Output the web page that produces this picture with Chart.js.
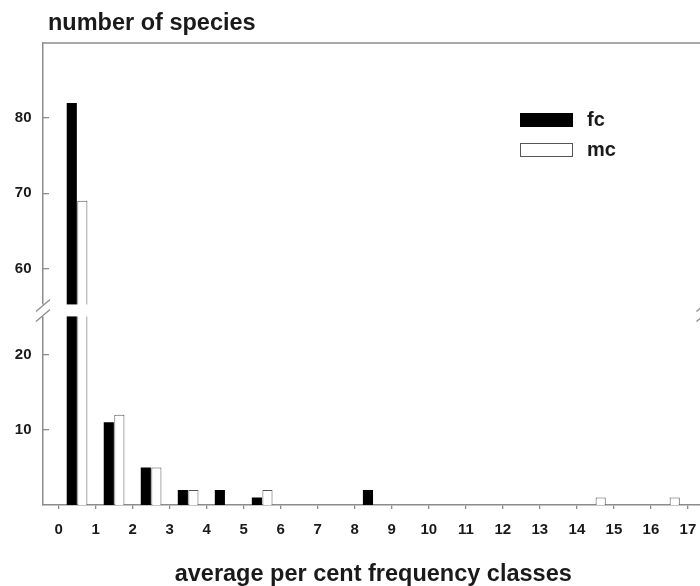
<!DOCTYPE html>
<html>
<head>
<meta charset="utf-8">
<title>number of species</title>
<script src="https://cdn.jsdelivr.net/npm/chart.js@4.4.1/dist/chart.umd.min.js"></script>
<style>
  html, body { margin: 0; padding: 0; background: #fff; overflow: hidden; }
</style>
</head>
<body>
<canvas id="chart" width="720" height="586"></canvas>
<script>
// frequency classes (class i = i..i+1 per cent)
const classes = [0, 1, 2, 3, 4, 5, 6, 7, 8, 9, 10, 11, 12, 13, 14, 15, 16];
const fc = [82, 11, 5, 2, 2, 1, 0, 0, 2, 0, 0, 0, 0, 0, 0, 0, 0];
const mc = [69, 12, 5, 2, 0, 2, 0, 0, 0, 0, 0, 0, 0, 0, 1, 0, 1];

const xTickValues = [0, 1, 2, 3, 4, 5, 6, 7, 8, 9, 10, 11, 12, 13, 14, 15, 16, 17];
const lowTickValues = [10, 20];
const highTickValues = [60, 70, 80];
const lowRange = [0, 25.9];   // lower part of the broken axis
const highRange = [54.4, 90]; // upper part

const yTitle = 'number of species';
const xTitle = 'average per cent frequency classes';

const AXIS = '#8c8c8c';
const TEXT = '#1a1a1a';
const FONT = '"Liberation Sans", Arial, sans-serif';

// bars sit in the middle of their class; split each value over the two axis parts
function lowPart(values) {
    return values.map((v, i) => ({ x: classes[i] + 0.5, y: v > 0 ? Math.min(v, lowRange[1]) : null }));
}
function highPart(values) {
    return values.map((v, i) => ({ x: classes[i] + 0.5, y: v > lowRange[1] ? v : null }));
}

const fcStyle = { backgroundColor: '#000', borderColor: '#000', borderWidth: 0 };
const mcStyle = { backgroundColor: '#fff', borderColor: '#555', borderWidth: 1 };

function yScale(range, tickValues, weight) {
    return {
        type: 'linear',
        position: 'left',
        stack: 'broken',
        stackWeight: weight,
        stacked: false,
        min: range[0],
        max: range[1],
        afterBuildTicks: s => { s.ticks = tickValues.map(v => ({ value: v })); },
        afterFit: s => { s.width = 43; },
        grid: { drawOnChartArea: false, tickLength: -6, color: AXIS, lineWidth: 1.3 },
        border: { color: AXIS, width: 1.5 },
        ticks: { padding: 17.5, color: TEXT, font: { family: FONT, size: 15, weight: 'bold' } }
    };
}

// white gap, break marks, frame line, title and legend
const decorations = {
    id: 'decorations',
    afterDraw(chart) {
        const ctx = chart.ctx;
        const area = chart.chartArea;
        const by = chart.scales.yHigh.bottom;
        ctx.save();

        ctx.fillStyle = '#fff';
        ctx.fillRect(area.left - 10, by - 6, area.right - area.left + 20, 12);

        ctx.strokeStyle = AXIS;
        ctx.lineWidth = 1.3;
        [area.left, area.right].forEach(x => {
            [by - 5, by + 5].forEach(y => {
                ctx.beginPath();
                ctx.moveTo(x - 7, y + 6);
                ctx.lineTo(x + 7, y - 6);
                ctx.stroke();
            });
        });

        ctx.lineWidth = 1.5;
        ctx.beginPath();
        ctx.moveTo(area.left, area.top);
        ctx.lineTo(area.right, area.top);
        ctx.stroke();

        ctx.fillStyle = TEXT;
        ctx.font = 'bold 23.5px ' + FONT;
        ctx.textBaseline = 'alphabetic';
        ctx.textAlign = 'left';
        ctx.fillText(yTitle, area.left + 5, 30);

        // legend from the first two datasets
        ctx.font = 'bold 20px ' + FONT;
        ctx.textBaseline = 'middle';
        chart.data.datasets.slice(0, 2).forEach((ds, i) => {
            const lx = area.left + 477;
            const ly = area.top + 70 + i * 30;
            ctx.fillStyle = ds.backgroundColor;
            ctx.fillRect(lx, ly, 53, 14);
            ctx.strokeStyle = ds.borderWidth ? ds.borderColor : ds.backgroundColor;
            ctx.lineWidth = 1;
            ctx.strokeRect(lx + 0.5, ly + 0.5, 52, 13);
            ctx.fillStyle = TEXT;
            ctx.fillText(ds.label, lx + 67, ly + 7);
        });
        ctx.restore();
    }
};

new Chart(document.getElementById('chart'), {
    type: 'bar',
    data: {
        datasets: [
            Object.assign({ label: 'fc', stack: 'fc', yAxisID: 'yLow', data: lowPart(fc) }, fcStyle),
            Object.assign({ label: 'mc', stack: 'mc', yAxisID: 'yLow', data: lowPart(mc) }, mcStyle),
            Object.assign({ label: 'fc', stack: 'fc', yAxisID: 'yHigh', data: highPart(fc) }, fcStyle),
            Object.assign({ label: 'mc', stack: 'mc', yAxisID: 'yHigh', data: highPart(mc) }, mcStyle)
        ]
    },
    options: {
        responsive: false,
        devicePixelRatio: 1,
        animation: false,
        categoryPercentage: 0.57,
        barPercentage: 0.96,
        layout: { padding: { top: 43, right: 16.5, bottom: 0, left: 0 } },
        plugins: {
            legend: { display: false },
            tooltip: { enabled: false },
            title: { display: false }
        },
        scales: {
            x: {
                type: 'linear',
                position: 'bottom',
                stacked: true,
                offset: false,
                min: -0.42,
                max: 17.42,
                afterBuildTicks: s => { s.ticks = xTickValues.map(v => ({ value: v })); },
                afterFit: s => { s.height = 81; },
                grid: { offset: false, drawOnChartArea: false, tickLength: 4, color: AXIS, lineWidth: 1.3 },
                border: { color: AXIS, width: 1.5 },
                ticks: { padding: 12, autoSkip: false, maxRotation: 0, color: TEXT,
                         font: { family: FONT, size: 15, weight: 'bold' } },
                title: { display: true, text: xTitle, color: TEXT, padding: { top: 0, bottom: 0 },
                         font: { family: FONT, size: 23.5, weight: 'bold', lineHeight: 1 } }
            },
            // the stack is laid out bottom-up, so the lower part comes first
            yLow: yScale(lowRange, lowTickValues, lowRange[1] - lowRange[0]),
            yHigh: yScale(highRange, highTickValues, highRange[1] - highRange[0])
        }
    },
    plugins: [decorations]
});
</script>
</body>
</html>
